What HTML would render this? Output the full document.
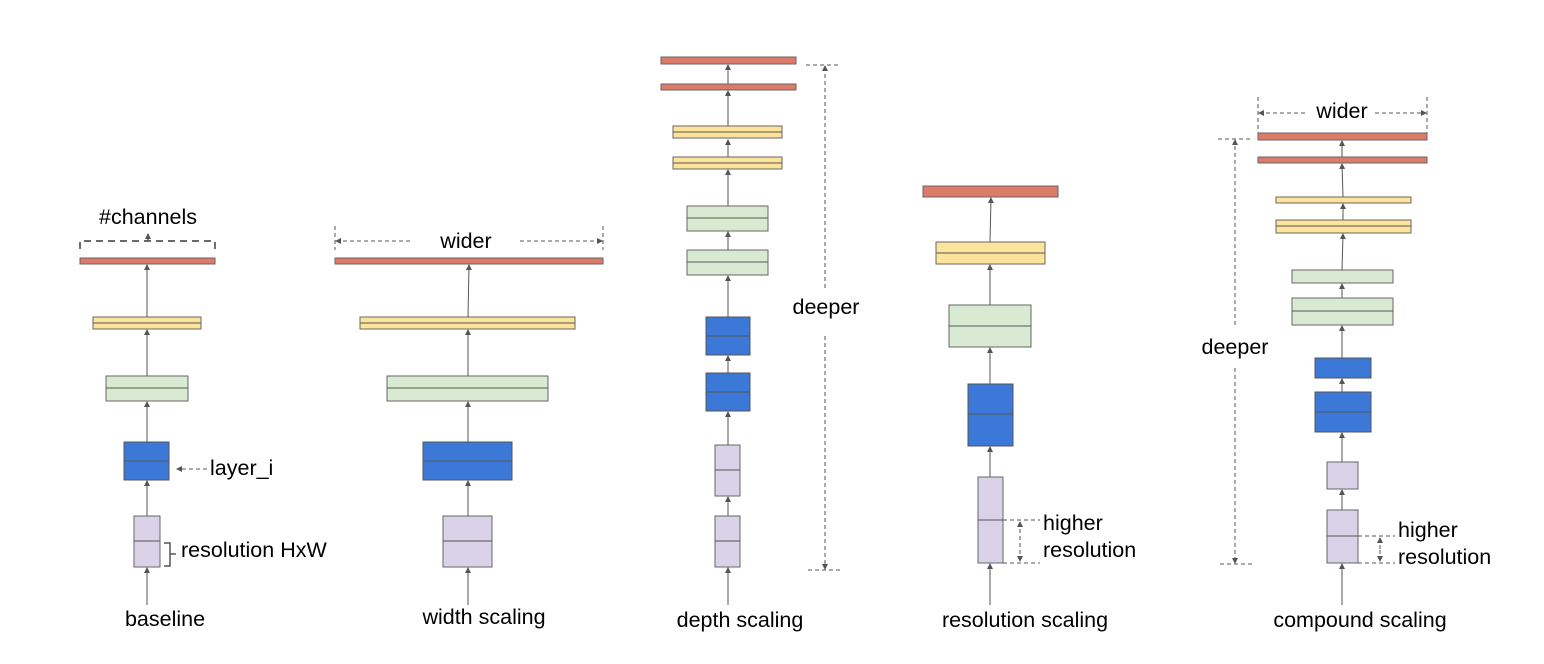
<!DOCTYPE html>
<html><head><meta charset="utf-8"><style>
html,body{margin:0;padding:0;background:#fff;}
svg{display:block;font-family:"Liberation Sans",Arial,sans-serif;}
.r{fill:#dd7b6b;stroke:#666;stroke-width:1}
.y{fill:#fde49a;stroke:#666;stroke-width:1}
.g{fill:#d9ead3;stroke:#666;stroke-width:1}
.b{fill:#3c78d8;stroke:#555;stroke-width:1}
.p{fill:#d9d2e9;stroke:#666;stroke-width:1}
.m{stroke:#555;stroke-width:1}
.a{stroke:#555;stroke-width:1;marker-end:url(#ah)}
.d{stroke:#555;stroke-width:1;stroke-dasharray:4,3;fill:none}
.da{stroke:#555;stroke-width:1;stroke-dasharray:4,3;fill:none;marker-end:url(#ah)}
text{font-size:21.5px;fill:#000}
</style></head><body>
<svg width="1544" height="664" viewBox="0 0 1544 664" xmlns="http://www.w3.org/2000/svg">
<defs><marker id="ah" markerWidth="6" markerHeight="6" refX="5" refY="3" orient="auto" markerUnits="userSpaceOnUse"><path d="M0,0 L6,3 L0,6 z" fill="#555"/></marker></defs>

<!-- baseline -->
<line class="a" x1="147" y1="605" x2="147" y2="568"/>
<rect class="p" x="134" y="516" width="26" height="51"/><line class="m" x1="134" y1="541" x2="160" y2="541"/>
<line class="a" x1="147" y1="516" x2="147" y2="481"/>
<rect class="b" x="124" y="442" width="45" height="38"/><line class="m" x1="124" y1="461" x2="169" y2="461"/>
<line class="a" x1="147" y1="442" x2="147" y2="402"/>
<rect class="g" x="106" y="376" width="82" height="25"/><line class="m" x1="106" y1="388" x2="188" y2="388"/>
<line class="a" x1="147" y1="376" x2="147" y2="330"/>
<rect class="y" x="93" y="317" width="108" height="12"/><line class="m" x1="93" y1="323" x2="201" y2="323"/>
<line class="a" x1="147" y1="317" x2="147" y2="265"/>
<rect class="r" x="80" y="258" width="135" height="6"/>
<path d="M80,249 L80,241 L215,241 L215,249" stroke="#555" stroke-width="1.7" fill="none" style="stroke-dasharray:7,5"/>
<line class="a" x1="148" y1="241" x2="148" y2="234" style="stroke-width:1.5"/>
<text x="148" y="224" text-anchor="middle">#channels</text>
<line class="da" x1="207" y1="469" x2="177" y2="469"/>
<text x="210" y="475">layer_i</text>
<path d="M164,543 L170,543 L170,566 L164,566 M170,554 L176,554" stroke="#555" stroke-width="1.5" fill="none"/>
<text x="181" y="557">resolution HxW</text>
<text x="165" y="626" text-anchor="middle">baseline</text>

<!-- width -->
<line class="a" x1="468" y1="605" x2="468" y2="568"/>
<rect class="p" x="443" y="516" width="49" height="51"/><line class="m" x1="443" y1="541" x2="492" y2="541"/>
<line class="a" x1="468" y1="516" x2="468" y2="481"/>
<rect class="b" x="423" y="442" width="89" height="38"/><line class="m" x1="423" y1="461" x2="512" y2="461"/>
<line class="a" x1="468" y1="442" x2="468" y2="402"/>
<rect class="g" x="387" y="376" width="161" height="25"/><line class="m" x1="387" y1="388" x2="548" y2="388"/>
<line class="a" x1="468" y1="376" x2="468" y2="330"/>
<rect class="y" x="360" y="317" width="215" height="12"/><line class="m" x1="360" y1="323" x2="575" y2="323"/>
<line class="a" x1="468" y1="317" x2="469" y2="265"/>
<rect class="r" x="335" y="258" width="268" height="6"/>
<line class="d" x1="335" y1="226" x2="335" y2="250"/><line class="d" x1="603" y1="226" x2="603" y2="250"/>
<line class="da" x1="410" y1="241" x2="336" y2="241"/><line class="da" x1="520" y1="241" x2="602" y2="241"/>
<text x="466" y="248" text-anchor="middle">wider</text>
<text x="484" y="624" text-anchor="middle">width scaling</text>

<!-- depth -->
<line class="a" x1="728" y1="605" x2="728" y2="568"/>
<rect class="p" x="715" y="516" width="25" height="51"/><line class="m" x1="715" y1="541" x2="740" y2="541"/>
<line class="a" x1="728" y1="516" x2="728" y2="497"/>
<rect class="p" x="715" y="445" width="25" height="51"/><line class="m" x1="715" y1="470" x2="740" y2="470"/>
<line class="a" x1="728" y1="445" x2="728" y2="412"/>
<rect class="b" x="706" y="373" width="44" height="38"/><line class="m" x1="706" y1="392" x2="750" y2="392"/>
<line class="a" x1="728" y1="373" x2="728" y2="356"/>
<rect class="b" x="706" y="317" width="44" height="38"/><line class="m" x1="706" y1="336" x2="750" y2="336"/>
<line class="a" x1="728" y1="317" x2="728" y2="276"/>
<rect class="g" x="687" y="250" width="81" height="25"/><line class="m" x1="687" y1="262" x2="768" y2="262"/>
<line class="a" x1="728" y1="250" x2="728" y2="232"/>
<rect class="g" x="687" y="206" width="81" height="25"/><line class="m" x1="687" y1="218" x2="768" y2="218"/>
<line class="a" x1="728" y1="206" x2="728" y2="170"/>
<rect class="y" x="673" y="157" width="109" height="12"/><line class="m" x1="673" y1="163" x2="782" y2="163"/>
<line class="a" x1="728" y1="157" x2="728" y2="140"/>
<rect class="y" x="673" y="126" width="109" height="12"/><line class="m" x1="673" y1="132" x2="782" y2="132"/>
<line class="a" x1="728" y1="126" x2="728" y2="91"/>
<rect class="r" x="661" y="84" width="135" height="6"/>
<line class="a" x1="728" y1="84" x2="728" y2="65"/>
<rect class="r" x="661" y="57" width="135" height="7"/>
<line class="d" x1="806" y1="65" x2="840" y2="65"/><line class="d" x1="808" y1="570" x2="842" y2="570"/>
<line class="da" x1="825" y1="288" x2="825" y2="66"/><line class="da" x1="825" y1="336" x2="825" y2="569"/>
<text x="826" y="314" text-anchor="middle">deeper</text>
<text x="740" y="627" text-anchor="middle">depth scaling</text>

<!-- resolution -->
<line class="a" x1="990" y1="605" x2="990" y2="564"/>
<rect class="p" x="978" y="477" width="25" height="86"/><line class="m" x1="978" y1="520" x2="1003" y2="520"/>
<line class="a" x1="990" y1="477" x2="990" y2="447"/>
<rect class="b" x="968" y="384" width="45" height="62"/><line class="m" x1="968" y1="414" x2="1013" y2="414"/>
<line class="a" x1="990" y1="384" x2="990" y2="348"/>
<rect class="g" x="949" y="305" width="82" height="42"/><line class="m" x1="949" y1="326" x2="1031" y2="326"/>
<line class="a" x1="990" y1="305" x2="990" y2="265"/>
<rect class="y" x="936" y="242" width="109" height="22"/><line class="m" x1="936" y1="253" x2="1045" y2="253"/>
<line class="a" x1="990" y1="242" x2="991" y2="198"/>
<rect class="r" x="923" y="186" width="135" height="11"/>
<line class="d" x1="1003" y1="520" x2="1040" y2="520"/><line class="d" x1="1003" y1="563" x2="1040" y2="563"/>
<line class="da" x1="1020" y1="540" x2="1020" y2="522"/><line class="da" x1="1020" y1="543" x2="1020" y2="561"/>
<text x="1043" y="530">higher</text>
<text x="1043" y="557">resolution</text>
<text x="1025" y="627" text-anchor="middle">resolution scaling</text>

<!-- compound -->
<line class="a" x1="1342" y1="605" x2="1342" y2="564"/>
<rect class="p" x="1327" y="510" width="31" height="53"/><line class="m" x1="1327" y1="536" x2="1358" y2="536"/>
<line class="a" x1="1342" y1="510" x2="1342" y2="490"/>
<rect class="p" x="1327" y="462" width="31" height="27"/>
<line class="a" x1="1342" y1="462" x2="1342" y2="433"/>
<rect class="b" x="1315" y="392" width="56" height="40"/><line class="m" x1="1315" y1="412" x2="1371" y2="412"/>
<line class="a" x1="1342" y1="392" x2="1342" y2="379"/>
<rect class="b" x="1315" y="358" width="56" height="20"/>
<line class="a" x1="1342" y1="358" x2="1342" y2="326"/>
<rect class="g" x="1292" y="298" width="101" height="27"/><line class="m" x1="1292" y1="311" x2="1393" y2="311"/>
<line class="a" x1="1342" y1="298" x2="1342" y2="284"/>
<rect class="g" x="1292" y="270" width="101" height="13"/>
<line class="a" x1="1342" y1="270" x2="1343" y2="234"/>
<rect class="y" x="1276" y="220" width="135" height="13"/><line class="m" x1="1276" y1="226" x2="1411" y2="226"/>
<line class="a" x1="1343" y1="220" x2="1343" y2="204"/>
<rect class="y" x="1276" y="197" width="135" height="6"/>
<line class="a" x1="1343" y1="197" x2="1342" y2="164"/>
<rect class="r" x="1258" y="157" width="169" height="6"/>
<line class="a" x1="1342" y1="157" x2="1342" y2="141"/>
<rect class="r" x="1258" y="133" width="169" height="7"/>
<line class="d" x1="1258" y1="97" x2="1258" y2="133"/><line class="d" x1="1427" y1="97" x2="1427" y2="133"/>
<line class="da" x1="1305" y1="113" x2="1259" y2="113"/><line class="da" x1="1375" y1="113" x2="1426" y2="113"/>
<text x="1342" y="118" text-anchor="middle">wider</text>
<line class="d" x1="1218" y1="139" x2="1252" y2="139"/><line class="d" x1="1220" y1="564" x2="1252" y2="564"/>
<line class="da" x1="1235" y1="325" x2="1235" y2="140"/><line class="da" x1="1235" y1="368" x2="1235" y2="563"/>
<text x="1235" y="354" text-anchor="middle">deeper</text>
<line class="d" x1="1358" y1="536" x2="1395" y2="536"/><line class="d" x1="1358" y1="563" x2="1395" y2="563"/>
<line class="da" x1="1380" y1="549" x2="1380" y2="538"/><line class="da" x1="1380" y1="550" x2="1380" y2="561"/>
<text x="1398" y="537">higher</text>
<text x="1398" y="564">resolution</text>
<text x="1360" y="627" text-anchor="middle">compound scaling</text>
</svg>
</body></html>
